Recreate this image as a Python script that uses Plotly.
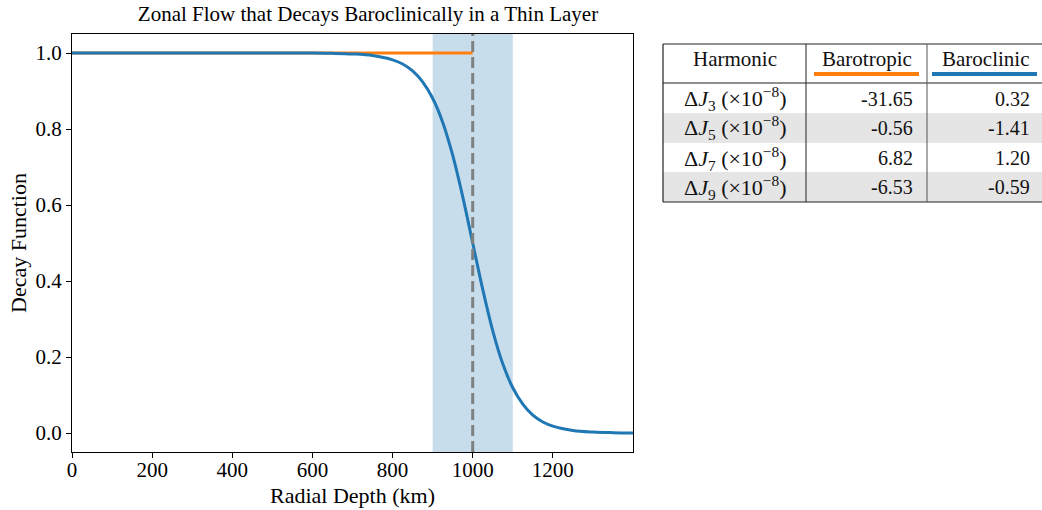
import plotly.graph_objects as go

# ---- data ----
depth_km = [0, 200, 400, 500, 600, 650, 700, 750, 800, 825, 850, 875, 900, 925, 950, 975,
            1000, 1025, 1050, 1075, 1100, 1125, 1150, 1175, 1200, 1250, 1300, 1350, 1400]
baroclinic = [1.0, 1.0, 1.0, 0.99995, 0.9997, 0.9991, 0.9975, 0.9933, 0.982, 0.971, 0.953,
              0.924, 0.881, 0.818, 0.731, 0.622, 0.5, 0.378, 0.269, 0.182, 0.119, 0.076,
              0.047, 0.029, 0.018, 0.0067, 0.0025, 0.0009, 0.0003]
barotropic_depth = [0, 1000]
barotropic = [1.0, 1.0]
layer_center = 1000
layer_band = [900, 1100]

table_header = ["Harmonic", "Barotropic", "Baroclinic"]
harmonics = [3, 5, 7, 9]
dJ_barotropic = ["-31.65", "-0.56", "6.82", "-6.53"]
dJ_baroclinic = ["0.32", "-1.41", "1.20", "-0.59"]

BLUE = "#1f77b4"
ORANGE = "#ff7f0e"
FONT = "Liberation Serif"

W, H = 1042, 510
L, R, T, B = 72, 633, 34, 452


def px(x):
    return (x - L) / (R - L)


def py(y):
    return (B - y) / (B - T)


fig = go.Figure()
fig.add_trace(go.Scatter(x=barotropic_depth, y=barotropic, mode="lines",
                         line=dict(color=ORANGE, width=3), name="Barotropic",
                         showlegend=False))
fig.add_trace(go.Scatter(x=depth_km, y=baroclinic, mode="lines", line_shape="spline",
                         line=dict(color=BLUE, width=3), name="Baroclinic",
                         showlegend=False))

fig.add_vrect(x0=layer_band[0], x1=layer_band[1], fillcolor="rgba(31,119,180,0.25)",
              line_width=0, layer="below")
fig.add_shape(type="line", x0=layer_center, x1=layer_center, y0=0, y1=1, yref="paper",
              line=dict(color="#808080", width=3, dash="11px,5px"))

shapes = []
annotations = []

# ---- table ----
tx0, tx1 = 663, 1046
col1, col2 = 806, 927
ty = [44, 83, 113, 143, 172, 202]

# grey rows
for i in (1, 3):
    shapes.append(dict(type="rect", xref="paper", yref="paper", x0=px(tx0), x1=px(tx1),
                       y0=py(ty[i + 2]), y1=py(ty[i + 1]), fillcolor="#e5e5e5",
                       line_width=0, layer="above"))
# borders
for yy in (ty[0], ty[1], ty[-1]):
    shapes.append(dict(type="line", xref="paper", yref="paper", x0=px(tx0), x1=px(tx1),
                       y0=py(yy), y1=py(yy), line=dict(color="#222", width=1.2)))
shapes.append(dict(type="line", xref="paper", yref="paper", x0=px(tx0), x1=px(tx0),
                   y0=py(ty[0]), y1=py(ty[-1]), line=dict(color="#222", width=1.2)))
shapes.append(dict(type="line", xref="paper", yref="paper", x0=px(col1), x1=px(col1),
                   y0=py(ty[0]), y1=py(ty[-1]), line=dict(color="#222", width=1)))
shapes.append(dict(type="line", xref="paper", yref="paper", x0=px(col2), x1=px(col2),
                   y0=py(ty[0]), y1=py(ty[-1]), line=dict(color="#555", width=1)))
# coloured underlines
shapes.append(dict(type="line", xref="paper", yref="paper", x0=px(814), x1=px(919),
                   y0=py(74), y1=py(74), line=dict(color=ORANGE, width=4)))
shapes.append(dict(type="line", xref="paper", yref="paper", x0=px(932), x1=px(1037),
                   y0=py(74), y1=py(74), line=dict(color=BLUE, width=4)))

hdr_x = [735, 867, 985]
for txt, xx in zip(table_header, hdr_x):
    annotations.append(dict(text=txt, x=px(xx), y=py(59), xref="paper", yref="paper",
                            showarrow=False, xanchor="center", yanchor="middle",
                            font=dict(family=FONT, size=21, color="#111")))
row_y = [99, 128, 158, 187]
for h, a, b, yy in zip(harmonics, dJ_barotropic, dJ_baroclinic, row_y):
    annotations.append(dict(text=f"Δ<i>J</i><sub>{h}</sub> (×10<sup>−8</sup>)",
                            x=px(735), y=py(yy), xref="paper", yref="paper",
                            showarrow=False, xanchor="center", yanchor="middle",
                            font=dict(family=FONT, size=22, color="#111")))
    annotations.append(dict(text=a, x=px(915), y=py(yy), xref="paper", yref="paper",
                            showarrow=False, xanchor="right", yanchor="middle",
                            font=dict(family=FONT, size=20, color="#111")))
    annotations.append(dict(text=b, x=px(1032), y=py(yy), xref="paper", yref="paper",
                            showarrow=False, xanchor="right", yanchor="middle",
                            font=dict(family=FONT, size=20, color="#111")))

fig.update_layout(
    width=W, height=H,
    margin=dict(l=L, r=W - R, t=T, b=H - B, pad=0, autoexpand=False),
    paper_bgcolor="white", plot_bgcolor="white",
    font=dict(family=FONT, size=20, color="black"),
    title=dict(text="Zonal Flow that Decays Baroclinically in a Thin Layer",
               x=px(368), xref="paper", xanchor="center", y=1 - 14 / H, yanchor="middle",
               font=dict(family=FONT, size=21, color="black")),
    shapes=list(fig.layout.shapes) + shapes,
    annotations=annotations,
)
fig.update_xaxes(range=[0, 1400], tickvals=[0, 200, 400, 600, 800, 1000, 1200],
                 showgrid=False, zeroline=False, showline=True, linecolor="black",
                 linewidth=1, mirror=True, ticks="outside", ticklen=5, tickcolor="black",
                 tickfont=dict(family=FONT, size=21), automargin=False,
                 ticklabelstandoff=-6,
                 title=dict(text="Radial Depth (km)", standoff=6,
                            font=dict(family=FONT, size=22)))
fig.update_yaxes(range=[-0.05, 1.05], tickvals=[0, 0.2, 0.4, 0.6, 0.8, 1.0],
                 tickformat=".1f", showgrid=False, zeroline=False, showline=True,
                 linecolor="black", linewidth=1, mirror=True, ticks="outside", ticklen=5,
                 tickcolor="black", tickfont=dict(family=FONT, size=21), automargin=False,
                 title=dict(text="Decay Function", standoff=2,
                            font=dict(family=FONT, size=22)))

fig.write_html("out.html", config={"displayModeBar": False},
               post_script="document.body.style.margin='0';document.body.style.padding='0';")
